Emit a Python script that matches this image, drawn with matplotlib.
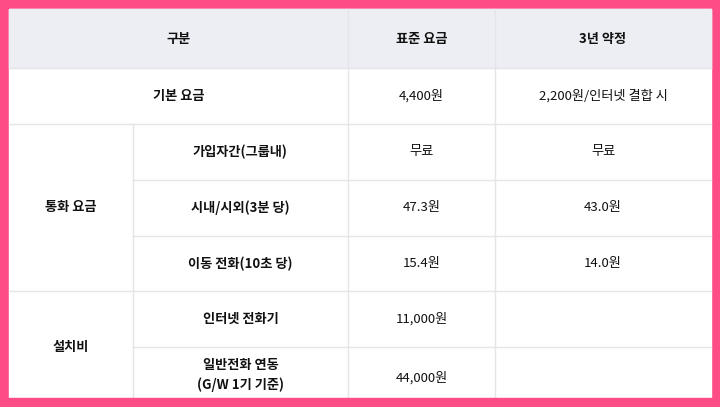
import matplotlib
matplotlib.use("Agg")
import matplotlib.pyplot as plt
from matplotlib.patches import Rectangle

plt.rcParams["font.family"] = "Noto Sans CJK KR"

headers = ["구분", "표준 요금", "3년 약정"]
basic_label = "기본 요금"
basic_values = ["4,400원", "2,200원/인터넷 결합 시"]
group1 = "통화 요금"
group1_items = ["가입자간(그룹내)", "시내/시외(3분 당)", "이동 전화(10초 당)"]
group1_std = ["무료", "47.3원", "15.4원"]
group1_3yr = ["무료", "43.0원", "14.0원"]
group2 = "설치비"
group2_items = ["인터넷 전화기", "일반전화 연동\n(G/W 1기 기준)"]
group2_std = ["11,000원", "44,000원"]
group2_3yr = ["", ""]

W, H = 720, 407
fig = plt.figure(figsize=(W/100, H/100), dpi=100)
ax = fig.add_axes([0, 0, 1, 1])
ax.set_xlim(0, W); ax.set_ylim(H, 0); ax.axis("off")

pink = "#fe4d86"; line = "#e4e4e9"
cx = [9, 133, 348, 495, 711]
ry = [9, 68, 124, 180, 236, 291, 347, 403]

ax.add_patch(Rectangle((0, 0), W, H, color=pink, zorder=0))
ax.add_patch(Rectangle((9, 9), 702, 389, color="white", zorder=1))
ax.add_patch(Rectangle((9, 9), 702, 59, color="#edeef3", zorder=2))

def hl(y, x0, x1):
    ax.plot([x0, x1], [y, y], color=line, lw=1, zorder=3)
def vl(x, y0, y1):
    ax.plot([x, x], [y0, y1], color=line, lw=1, zorder=3)

hl(68, 9, 711); hl(124, 9, 711); hl(291, 9, 711)
for y in [180, 236, 347]:
    hl(y, 133, 711)
vl(348, 9, 398); vl(495, 9, 398); vl(133, 124, 398)

def t(x, y, s, w="normal"):
    ax.text(x, y, s, ha="center", va="center", fontsize=9.5, weight=w,
            color="#111111", zorder=4, linespacing=1.5)

mid = lambda a, b: (a + b) / 2
t(mid(cx[0], cx[2]), mid(ry[0], ry[1]), headers[0], "bold")
t(mid(cx[2], cx[3]), mid(ry[0], ry[1]), headers[1], "bold")
t(mid(cx[3], cx[4]), mid(ry[0], ry[1]), headers[2], "bold")
t(mid(cx[0], cx[2]), mid(ry[1], ry[2]), basic_label, "bold")
t(mid(cx[2], cx[3]), mid(ry[1], ry[2]), basic_values[0])
t(mid(cx[3], cx[4]), mid(ry[1], ry[2]), basic_values[1])
t(mid(cx[0], cx[1]), mid(ry[2], ry[5]), group1, "bold")
for i in range(3):
    y = mid(ry[2+i], ry[3+i])
    t(mid(cx[1], cx[2]), y, group1_items[i], "bold")
    t(mid(cx[2], cx[3]), y, group1_std[i])
    t(mid(cx[3], cx[4]), y, group1_3yr[i])
t(mid(cx[0], cx[1]), mid(ry[5], ry[7]), group2, "bold")
for i in range(2):
    y = mid(ry[5+i], ry[6+i])
    t(mid(cx[1], cx[2]), y, group2_items[i], "bold")
    t(mid(cx[2], cx[3]), y + (3 if i == 1 else 0), group2_std[i])
    t(mid(cx[3], cx[4]), y, group2_3yr[i])

ax.add_patch(Rectangle((0, 398), W, 9, color=pink, zorder=5))
fig.savefig("out.png", dpi=100)
